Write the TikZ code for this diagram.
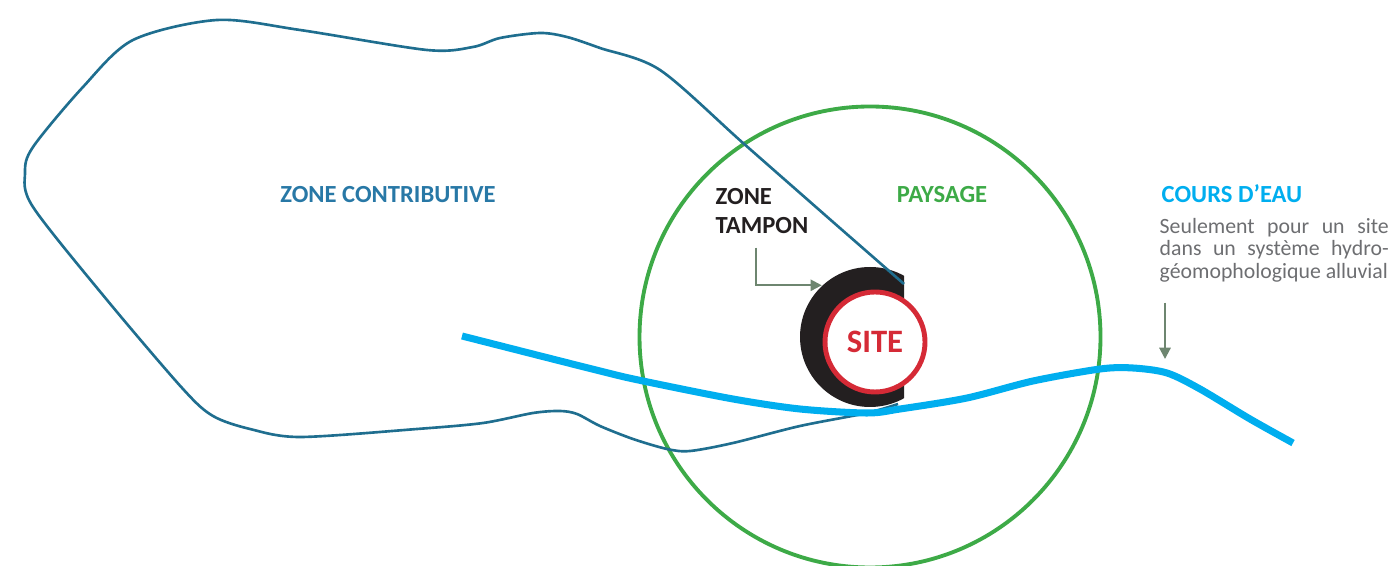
\documentclass[tikz,border=0pt]{standalone}
\usepackage{fontspec}
\setmainfont{Carlito}
\usetikzlibrary{arrows.meta, positioning, calc}

\definecolor{contour}{HTML}{1F6E8F}
\definecolor{contourtxt}{HTML}{2878A6}
\definecolor{vert}{HTML}{3DAA47}
\definecolor{rouge}{HTML}{D52A36}
\definecolor{noir}{HTML}{231F20}
\definecolor{eau}{HTML}{00AEEF}
\definecolor{gristxt}{HTML}{6D6E71}
\definecolor{flechecol}{HTML}{6E8670}

\begin{document}
\begin{tikzpicture}[
    titre/.style={font=\fontsize{7}{8.25}\selectfont\bfseries, inner sep=0pt},
    renvoi/.style={draw=flechecol, line width=0.6pt, -{Triangle[length=3.2pt,width=3.2pt]}}
  ]
    \useasboundingbox (0,0) rectangle (13.89,5.66);

    % Landscape
    \node[circle, draw=vert, line width=1.1pt, minimum size=4.61cm, inner sep=0pt] (paysage) at (8.70,2.29) {};

    % Buffer zone, cut on its right side
    \begin{scope}
      \clip (7.5,1.0) rectangle (9.04,3.4);
      \node[circle, fill=noir, minimum size=1.40cm, inner sep=0pt] (tampon) at (8.70,2.29) {};
    \end{scope}

    % Contour of the contributing zone (open behind the buffer)
    \draw[contour, line width=0.75pt] plot[smooth] coordinates {
      (9.04,2.82) (8.33,3.44) (7.43,4.23) (6.60,4.96) (6.00,5.18) (5.67,5.29)
      (5.40,5.33) (5.00,5.28) (4.73,5.19) (4.27,5.16) (3.00,5.36) (2.17,5.46)
      (1.33,5.26) (0.83,4.79) (0.33,4.19) (0.25,3.93) (0.33,3.59) (1.07,2.66)
      (1.83,1.77) (2.13,1.50) (2.50,1.37) (3.00,1.29) (4.17,1.37)
      (4.83,1.43) (5.33,1.53) (5.60,1.55) (5.77,1.52) (6.00,1.40) (6.33,1.27)
      (6.67,1.17) (6.90,1.15) (7.33,1.23) (8.00,1.40) (8.67,1.53) (8.98,1.62)
    };

    % Watercourse
    \draw[eau, line width=2pt] plot[smooth] coordinates {
      (4.62,2.30) (6.00,1.95) (6.43,1.85) (7.33,1.67) (8.00,1.57) (8.67,1.53)
      (9.00,1.57) (9.67,1.68) (10.33,1.85) (11.00,1.97) (11.33,1.98) (11.67,1.93)
      (12.00,1.77) (12.50,1.47) (12.93,1.23)
    };
    \coordinate (lit) at (11.65,2.07);

    % Site
    \node[circle, draw=rouge, fill=white, line width=1.4pt, minimum size=1.0cm, inner sep=0pt,
          text=rouge, font=\fontsize{9.3}{11}\selectfont\bfseries] (site) at (8.75,2.24) {SITE};

    % Labels
    \node[titre, text=contourtxt, anchor=base] (zc) at (3.88,3.63) {ZONE CONTRIBUTIVE};
    \node[titre, text=vert, anchor=base] (lblpaysage) at (9.42,3.63) {PAYSAGE};
    \node[titre, text=noir, anchor=north west, align=left] (lbltampon) at (7.15,3.78) {ZONE\\TAMPON};
    \node[titre, text=eau, anchor=base west] (lbleau) at (11.61,3.63) {COURS D’EAU};
    \node[font=\fontsize{6.2}{6.3}\selectfont, text=gristxt, text width=2.29cm, align=justify,
          anchor=north west, inner sep=0pt] (note) at (11.59,3.48)
      {\parfillskip=0pt Seulement pour un site\linebreak dans un système hydro-\linebreak géomophologique alluvial};

    % Pointers
    \draw[renvoi] ([xshift=-0.06cm, yshift=-0.13cm]lbltampon.south) |- (tampon.133);
    \draw[renvoi] ($(lit |- note.south)+(0,-0.2)$) -- (lit);
\end{tikzpicture}
\end{document}
